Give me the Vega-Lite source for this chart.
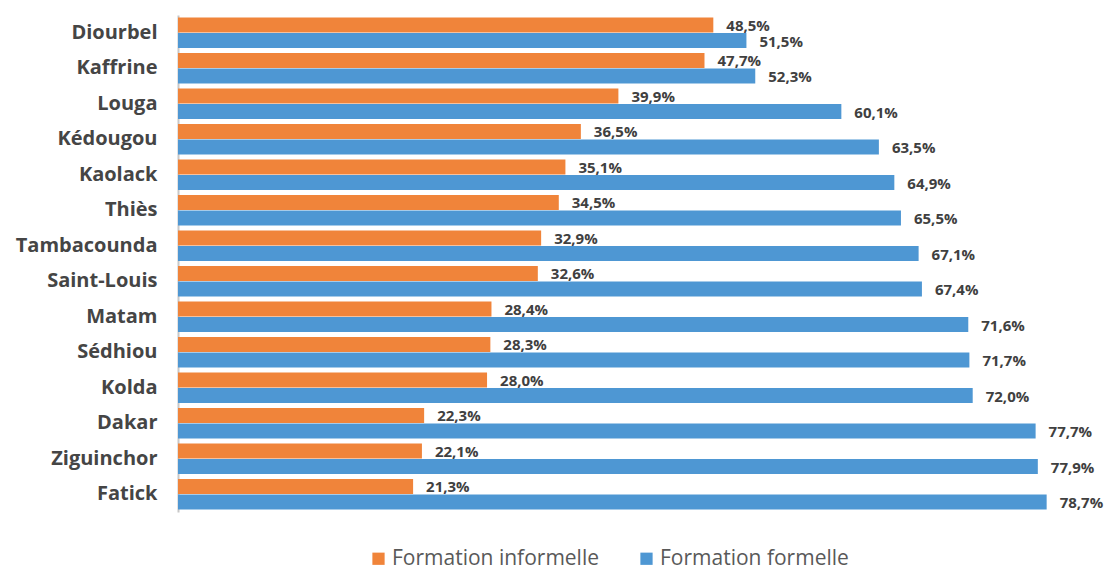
{
  "$schema": "https://vega.github.io/schema/vega-lite/v6.json",
  "width": 883,
  "height": 497,
  "autosize": {"type": "none"},
  "padding": {"left": 178, "top": 15, "right": 44, "bottom": 59},
  "background": "white",
  "config": {
    "view": {"stroke": null},
    "font": "Open Sans",
    "locale": {"number": {"decimal": ",", "thousands": " ", "grouping": [3], "currency": ["", " €"]}}
  },
  "data": {
    "values": [
      {"region": "Diourbel", "type": "Formation informelle", "v": 0.485},
      {"region": "Diourbel", "type": "Formation formelle", "v": 0.515},
      {"region": "Kaffrine", "type": "Formation informelle", "v": 0.477},
      {"region": "Kaffrine", "type": "Formation formelle", "v": 0.523},
      {"region": "Louga", "type": "Formation informelle", "v": 0.399},
      {"region": "Louga", "type": "Formation formelle", "v": 0.601},
      {"region": "Kédougou", "type": "Formation informelle", "v": 0.365},
      {"region": "Kédougou", "type": "Formation formelle", "v": 0.635},
      {"region": "Kaolack", "type": "Formation informelle", "v": 0.351},
      {"region": "Kaolack", "type": "Formation formelle", "v": 0.649},
      {"region": "Thiès", "type": "Formation informelle", "v": 0.345},
      {"region": "Thiès", "type": "Formation formelle", "v": 0.655},
      {"region": "Tambacounda", "type": "Formation informelle", "v": 0.329},
      {"region": "Tambacounda", "type": "Formation formelle", "v": 0.671},
      {"region": "Saint-Louis", "type": "Formation informelle", "v": 0.326},
      {"region": "Saint-Louis", "type": "Formation formelle", "v": 0.674},
      {"region": "Matam", "type": "Formation informelle", "v": 0.284},
      {"region": "Matam", "type": "Formation formelle", "v": 0.716},
      {"region": "Sédhiou", "type": "Formation informelle", "v": 0.283},
      {"region": "Sédhiou", "type": "Formation formelle", "v": 0.717},
      {"region": "Kolda", "type": "Formation informelle", "v": 0.280},
      {"region": "Kolda", "type": "Formation formelle", "v": 0.720},
      {"region": "Dakar", "type": "Formation informelle", "v": 0.223},
      {"region": "Dakar", "type": "Formation formelle", "v": 0.777},
      {"region": "Ziguinchor", "type": "Formation informelle", "v": 0.221},
      {"region": "Ziguinchor", "type": "Formation formelle", "v": 0.779},
      {"region": "Fatick", "type": "Formation informelle", "v": 0.213},
      {"region": "Fatick", "type": "Formation formelle", "v": 0.787}
    ]
  },
  "encoding": {
    "y": {
      "field": "region", "type": "nominal", "sort": null,
      "scale": {"paddingInner": 0.14, "paddingOuter": 0.07},
      "axis": {
        "title": null, "ticks": false, "labelFontSize": 20, "labelFontWeight": "bold",
        "labelColor": "#454545", "labelPadding": 21, "domainColor": "#C8C8C8", "domainWidth": 2
      }
    },
    "yOffset": {
      "field": "type", "type": "nominal",
      "sort": ["Formation informelle", "Formation formelle"],
      "scale": {"paddingInner": 0.04}
    },
    "x": {
      "field": "v", "type": "quantitative",
      "scale": {"domain": [0, 0.8], "nice": false},
      "axis": null
    }
  },
  "layer": [
    {
      "mark": {"type": "bar"},
      "encoding": {
        "color": {
          "field": "type", "type": "nominal",
          "scale": {"domain": ["Formation informelle", "Formation formelle"], "range": ["#F0843A", "#4E97D3"]},
          "legend": {
            "title": null, "orient": "none", "direction": "horizontal",
            "legendX": 190, "legendY": 533,
            "symbolType": "square", "symbolSize": 150, "symbolStrokeWidth": 0,
            "labelFontSize": 21, "labelColor": "#595959", "columnPadding": 36,
            "labelOffset": 3, "labelLimit": 0
          }
        }
      }
    },
    {
      "mark": {"type": "text", "align": "left", "baseline": "middle", "dx": 13, "dy": 1, "fontSize": 15, "fontWeight": "bold", "color": "#404040"},
      "encoding": {
        "text": {"field": "v", "type": "quantitative", "format": ".1%"}
      }
    }
  ]
}
